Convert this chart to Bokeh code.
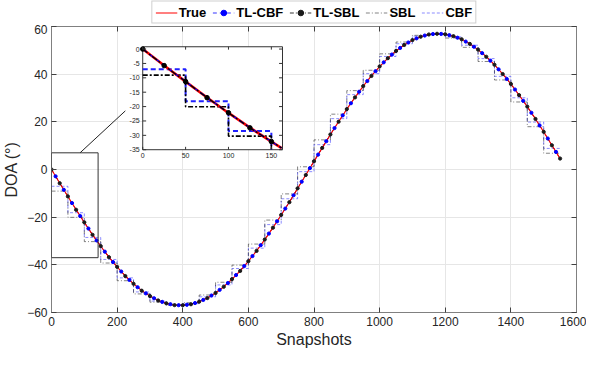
from bokeh.plotting import figure
from bokeh.layouts import column
from bokeh.models import Range1d, Legend, LegendItem, FixedTicker, BoxAnnotation, LinearAxis
from bokeh.core.properties import value
from bokeh.embed import file_html
from bokeh.resources import INLINE

# ---------------- data ----------------
snap = list(range(0, 1551, 25))
true_doa = [0.00, -5.69, -11.33, -16.85, -22.21, -27.34, -32.20, -36.74, -40.91, -44.68,
            -47.98, -50.81, -53.12, -54.92, -56.17, -56.87, -56.98, -56.53, -55.50, -53.93,
            -51.81, -49.18, -46.07, -42.50, -38.51, -34.12, -29.40, -24.38, -19.11, -13.65,
            -7.96, -2.28, 3.42, 9.08, 14.66, 20.09, 25.31, 30.29, 34.96, 39.28,
            43.21, 46.71, 49.74, 52.28, 54.29, 55.75, 56.66, 57.00, 56.77, 55.97,
            54.62, 52.72, 50.29, 47.35, 43.95, 40.10, 35.86, 31.26, 26.37, 21.22,
            15.78, 10.21, 4.56]
tl_sbl = [0.00, -5.75, -11.30, -16.90, -22.15, -27.40, -32.15, -36.80, -40.85, -44.70,
          -47.95, -50.85, -53.10, -54.95, -56.15, -56.90, -56.95, -56.55, -55.45, -53.95,
          -51.80, -49.20, -46.00, -42.55, -38.45, -34.15, -29.35, -24.40, -19.05, -13.70,
          -7.90, -2.30, 3.45, 9.05, 14.70, 20.05, 25.35, 30.25, 35.00, 39.25,
          43.25, 46.70, 49.75, 52.25, 54.30, 55.70, 56.65, 56.95, 56.75, 55.95,
          54.65, 52.70, 50.30, 47.30, 43.95, 40.05, 35.90, 31.20, 26.40, 21.20,
          15.80, 10.15, 4.60]
tl_cbf_snap = [s + 12.5 for s in snap[:-1]]
tl_cbf = [-2.85, -8.51, -14.09, -19.53, -24.78, -29.77, -34.47, -38.83, -42.80, -46.33,
          -49.40, -51.97, -54.02, -55.55, -56.52, -56.93, -56.76, -56.02, -54.72, -52.87,
          -50.50, -47.63, -44.29, -40.51, -36.32, -31.76, -26.89, -21.75, -16.38, -10.81,
          -5.12, 0.57, 6.25, 11.87, 17.38, 22.70, 27.80, 32.63, 37.12, 41.25,
          44.96, 48.23, 51.01, 53.29, 55.02, 56.21, 56.83, 56.89, 56.37, 55.30,
          53.67, 51.51, 48.82, 45.65, 42.03, 37.98, 33.56, 28.82, 23.80, 18.50,
          13.00, 7.39]
block_edges = list(range(0, 1551, 50))
cbf = [-7.04, -18.14, -28.51, -37.74, -45.47, -51.36, -55.22, -56.90, -56.28, -53.42,
       -48.43, -41.54, -32.99, -23.12, -12.28, -0.91, 10.42, 21.34, 31.41, 40.22,
       47.44, 52.76, 55.97, 56.94, 55.65, 52.14, 46.53, 39.08, 30.09, 19.91, 8.85]
sbl = [-9.07, -20.07, -30.26, -39.24, -46.66, -52.20, -55.67, -56.94, -55.91, -52.66,
       -47.31, -40.11, -31.29, -21.22, -10.24, 1.14, 12.43, 23.22, 33.09, 41.64,
       48.53, 53.49, 56.30, 56.86, 55.16, 51.26, 45.31, 37.56, 28.33, 17.96, 6.82]

x_ticks = [0, 200, 400, 600, 800, 1000, 1200, 1400, 1600]
y_ticks = [-60, -40, -20, 0, 20, 40, 60]

# inset (zoom of the first 160 snapshots)
inset_snap = [0, 25, 50, 75, 100, 125, 150, 162]
inset_true = [0.00, -5.69, -11.33, -16.85, -22.21, -27.34, -32.20, -34.41]
inset_tlsbl = [0.00, -5.75, -11.30, -16.90, -22.15, -27.40, -32.15, -34.41]
inset_tlcbf_snap = [0, 12.5, 37.5, 62.5, 87.5, 112.5, 137.5, 162]
inset_tlcbf = [0.00, -2.85, -8.51, -14.09, -19.53, -24.78, -29.77, -34.41]
inset_edges = [0, 50, 100, 150]
inset_cbf = [-7.04, -18.14, -28.51, -35.0]
inset_sbl = [-9.07, -20.07, -30.26, -35.0]
inset_x_ticks = [0, 50, 100, 150]
inset_y_ticks = [0, -5, -10, -15, -20, -25, -30, -35]
INSET_XLIM = (0, 163)
INSET_YLIM = (-35, 0.8)
INSET_AT_X = (278, 704)     # inset box placement, main-axis units
INSET_AT_Y = (8.3, 51.5)
ZOOM_BOX = dict(left=0, right=142, bottom=-37, top=7)
CONNECTOR = dict(x=[87, 225], y=[7, 24.6])

legend_labels = ["True", "TL-CBF", "TL-SBL", "SBL", "CBF"]

# ---------------- styles ----------------
FONT = "Liberation Sans"
ST_TRUE = dict(color="#ff0000", line_width=1.1)
ST_TLCBF = dict(color="#0000ff", line_dash="4 3", line_width=0.8)
ST_TLSBL = dict(color="#000000", line_dash="4 2 1 2", line_width=0.8)
ST_SBL = dict(color="#202020", line_dash="4 2 1 2", line_width=0.7, line_alpha=0.8)
ST_CBF = dict(color="#3030ff", line_dash="3 2", line_width=0.7, line_alpha=0.8)

# ---------------- main figure ----------------
XR = (0, 1600)
YR = (-60, 60)
p = figure(width=586, height=326, x_range=Range1d(*XR), y_range=Range1d(*YR),
           output_backend="svg", toolbar_location=None,
           min_border_left=4, min_border_right=10, min_border_top=2, min_border_bottom=4)
p.background_fill_color = "white"
p.outline_line_color = "#808080"

for ax in (p.xaxis[0], p.yaxis[0]):
    ax.major_label_text_font = FONT
    ax.major_label_text_font_size = "12px"
    ax.major_label_text_color = "#262626"
    ax.axis_label_text_font = FONT
    ax.axis_label_text_font_size = "16px"
    ax.axis_label_text_font_style = "normal"
    ax.axis_label_text_color = "#262626"
    ax.axis_line_color = "#808080"
    ax.major_tick_line_color = "#404040"
    ax.major_tick_in = 5
    ax.major_tick_out = 0
    ax.minor_tick_line_color = None
p.xaxis.ticker = FixedTicker(ticks=x_ticks)
p.yaxis.ticker = FixedTicker(ticks=y_ticks)
p.xaxis.axis_label = "Snapshots"
p.yaxis.axis_label = "DOA (°)"
p.xaxis.axis_label_standoff = 2
p.yaxis.axis_label_standoff = 4
p.xaxis.major_label_standoff = 4
p.yaxis.major_label_standoff = 4

# box ticks on the top and right edges (labels blanked)
for loc, tk in (("right", y_ticks), ("above", x_ticks)):
    a = LinearAxis(ticker=FixedTicker(ticks=tk), major_tick_in=5, major_tick_out=0,
                   major_label_overrides={t: "" for t in tk}, major_label_standoff=0,
                   minor_tick_line_color=None, axis_line_color="#808080",
                   major_tick_line_color="#404040")
    p.add_layout(a, loc)

p.xgrid.ticker = FixedTicker(ticks=x_ticks)
p.ygrid.ticker = FixedTicker(ticks=y_ticks)
p.grid.grid_line_color = "#e6e6e6"
p.grid.grid_line_width = 1

p.step(block_edges, cbf + [cbf[-1]], mode="after", **ST_CBF)
p.step(block_edges, sbl + [sbl[-1]], mode="after", **ST_SBL)
p.line(tl_cbf_snap, tl_cbf, **ST_TLCBF)
p.line(snap, tl_sbl, **ST_TLSBL)
p.line(snap, true_doa, **ST_TRUE)
p.scatter(tl_cbf_snap, tl_cbf, size=3.2, color="#0000ff")
p.scatter(snap, tl_sbl, size=3.2, color="#1a1a1a")

# zoom box and connector
p.add_layout(BoxAnnotation(fill_alpha=0, line_color="#333333", line_alpha=1.0,
                           line_width=1, **ZOOM_BOX))
p.line(CONNECTOR["x"], CONNECTOR["y"], color="#222222", line_width=1)

# ---------------- inset via extra ranges ----------------
sx = (INSET_AT_X[1] - INSET_AT_X[0]) / (INSET_XLIM[1] - INSET_XLIM[0])
sy = (INSET_AT_Y[1] - INSET_AT_Y[0]) / (INSET_YLIM[1] - INSET_YLIM[0])
def ux(m): return INSET_XLIM[0] + (m - INSET_AT_X[0]) / sx
def uy(m): return INSET_YLIM[0] + (m - INSET_AT_Y[0]) / sy
p.extra_x_ranges = {"ix": Range1d(ux(XR[0]), ux(XR[1]))}
p.extra_y_ranges = {"iy": Range1d(uy(YR[0]), uy(YR[1]))}
kw = dict(x_range_name="ix", y_range_name="iy")

p.quad(left=INSET_XLIM[0], right=INSET_XLIM[1], bottom=INSET_YLIM[0], top=INSET_YLIM[1],
       fill_color="white", line_color="#333333", line_width=1, **kw)
p.step(inset_edges, inset_cbf, mode="after", color="#1f1fff", line_dash="5 3",
       line_width=2, **kw)
p.step(inset_edges, inset_sbl, mode="after", color="#000000", line_dash="5 2 2 2",
       line_width=1.6, **kw)
p.line(inset_snap, inset_true, color="#ff0000", line_width=2.6, **kw)
p.line(inset_tlcbf_snap, inset_tlcbf, color="#0000ff", line_dash="5 3", line_width=1.3, **kw)
p.line(inset_snap, inset_tlsbl, color="#000000", line_dash="6 2 2 2", line_width=1.3, **kw)
p.scatter(inset_snap[:-1], inset_tlsbl[:-1], size=4.5, color="#000000", **kw)

dx = 4.0
dy = 1.0
ny, nx = len(inset_y_ticks), len(inset_x_ticks)
p.segment(x0=[INSET_XLIM[0]] * ny, x1=[INSET_XLIM[0] + dx] * ny,
          y0=inset_y_ticks, y1=inset_y_ticks, color="#333333", line_width=1, **kw)
p.segment(x0=[INSET_XLIM[1]] * ny, x1=[INSET_XLIM[1] - dx] * ny,
          y0=inset_y_ticks, y1=inset_y_ticks, color="#333333", line_width=1, **kw)
p.segment(x0=inset_x_ticks, x1=inset_x_ticks, y0=[INSET_YLIM[0]] * nx,
          y1=[INSET_YLIM[0] + dy] * nx, color="#333333", line_width=1, **kw)
p.segment(x0=inset_x_ticks, x1=inset_x_ticks, y0=[INSET_YLIM[1]] * nx,
          y1=[INSET_YLIM[1] - dy] * nx, color="#333333", line_width=1, **kw)
p.text(x=[INSET_XLIM[0]] * ny, y=inset_y_ticks,
       text=[str(t) for t in inset_y_ticks], x_offset=-3, text_align="right",
       text_baseline="middle", text_font_size="7px", text_color="#262626",
       text_font=value(FONT), **kw)
p.text(x=inset_x_ticks, y=[INSET_YLIM[0]] * nx,
       text=[str(t) for t in inset_x_ticks], y_offset=3, text_align="center",
       text_baseline="top", text_font_size="7px", text_color="#262626",
       text_font=value(FONT), **kw)

# ---------------- legend strip (separate small figure) ----------------
lf = figure(width=586, height=24, x_range=Range1d(0, 1), y_range=Range1d(0, 1),
            output_backend="svg", toolbar_location=None, min_border=0)
lf.axis.visible = False
lf.grid.visible = False
lf.outline_line_color = None
off = ([5, 6], [5, 6])   # proxy glyphs kept outside the strip's visible range
l_true = lf.line(*off, **ST_TRUE)
l_tlcbf = lf.line(*off, **ST_TLCBF)
m_tlcbf = lf.scatter(*off, size=4, color="#0000ff")
l_tlsbl = lf.line(*off, **ST_TLSBL)
m_tlsbl = lf.scatter(*off, size=4, color="#1a1a1a")
l_sbl = lf.line(*off, **ST_SBL)
l_cbf = lf.line(*off, **ST_CBF)
legend = Legend(items=[
    LegendItem(label=legend_labels[0], renderers=[l_true]),
    LegendItem(label=legend_labels[1], renderers=[l_tlcbf, m_tlcbf]),
    LegendItem(label=legend_labels[2], renderers=[l_tlsbl, m_tlsbl]),
    LegendItem(label=legend_labels[3], renderers=[l_sbl]),
    LegendItem(label=legend_labels[4], renderers=[l_cbf]),
], orientation="horizontal", location="center")
legend.label_text_font = FONT
legend.label_text_font_style = "bold"
legend.label_text_font_size = "13px"
legend.label_text_color = "#000000"
legend.glyph_width = 22
legend.glyph_height = 14
legend.label_height = 14
legend.label_standoff = 2
legend.spacing = 6
legend.padding = 3
legend.margin = 0
legend.border_line_color = "#a0a0a0"
legend.background_fill_color = "white"
lf.add_layout(legend)

layout = column(lf, p, spacing=0)
open("out.html", "w").write(file_html(layout, INLINE))
